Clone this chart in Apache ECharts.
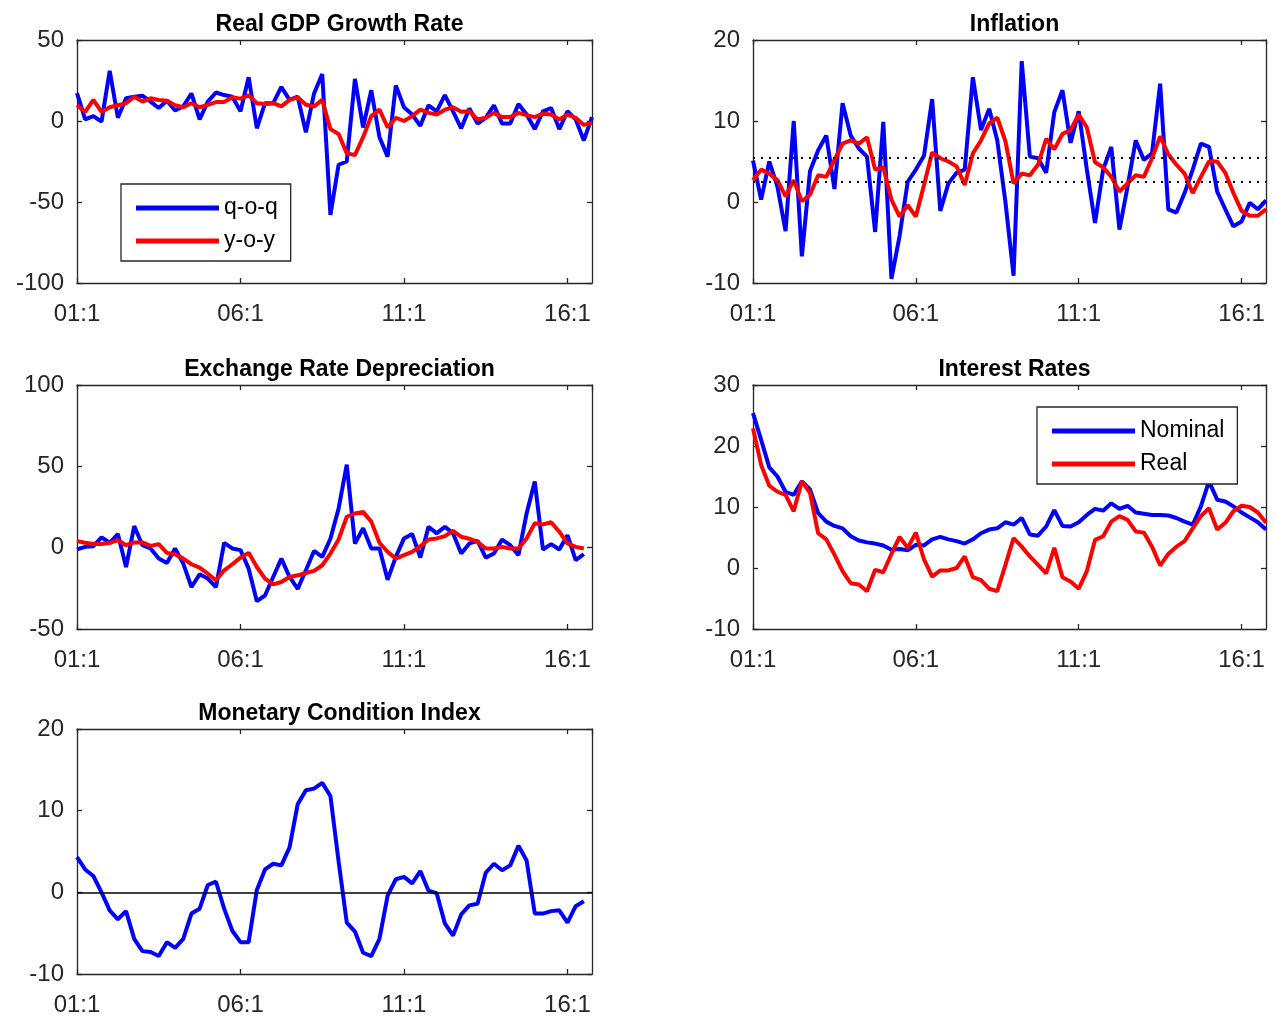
<!DOCTYPE html>
<html>
<head>
<meta charset="utf-8">
<title>Macro indicators</title>
<script src="https://cdn.jsdelivr.net/npm/echarts@6/dist/echarts.min.js"></script>
<style>
  html, body { margin: 0; padding: 0; background: #fff; }
  #chart { width: 1275px; height: 1017px; }
</style>
</head>
<body>
<div id="chart"></div>
<script>
// quarterly data, 2001Q1 onwards (index 0 = 01:1)
const quarterTicks = ["01:1", "06:1", "11:1", "16:1"];

const gdpQoq = [17.2, 1, 3, -0.4, 31, 2, 14, 15, 15.6, 12,
  8, 12.5, 6.5, 9, 17, 1, 12, 17.6, 16, 15,
  6, 27, -4.5, 11, 11, 21, 13, 15, -7, 17,
  29, -58, -27, -25, 26, -4, 19, -10, -22, 22,
  8.5, 4, -3, 9.7, 6, 16, 6, -4.5, 7.7, -1.6,
  2, 9.7, -1.6, -1.6, 10.5, 4, -5, 6, 8, -5,
  6, 1, -12, 2.4];
const gdpYoy = [9.7, 5.7, 13, 5.7, 8.5, 9.7, 11, 15, 12, 14,
  13, 12.5, 9.7, 8.5, 11, 8.5, 10, 11.7, 11.7, 14.6,
  13.8, 15.8, 11, 10.5, 11, 9, 13, 14.6, 10, 9,
  13, -5, -8, -20, -21, -10, 3, 7, -4, 2,
  0, 3, 7, 5, 4, 7, 8.5, 5.7, 6, 1,
  2, 5, 2.4, 2.4, 5, 3.6, 2.4, 4.5, 4, 1,
  4, 2, -2.4, -1];

const inflQoq = [5.1, 0.3, 5, 1.9, -3.6, 10, -6.7, 3.8, 6.4, 8.2,
  1.6, 12.2, 8.2, 6.6, 5.6, -3.7, 9.9, -9.5, -4.2, 2.5,
  4, 5.7, 12.7, -1.1, 2.3, 3.6, 4, 15.4, 8.9, 11.5,
  7.6, 0, -9.1, 17.4, 5.6, 5.4, 3.6, 11.1, 13.8, 7.3,
  11.2, 4, -2.6, 4, 6.8, -3.4, 1.9, 7.6, 5.2, 6,
  14.6, -0.9, -1.3, 1.1, 4, 7.2, 6.8, 1.3, -0.9, -3,
  -2.4, -0.1, -0.9, 0.2];
const inflYoy = [2.7, 4, 3.5, 2.7, 0.7, 2.7, 0.1, 0.9, 3.3, 3.1,
  5.2, 7.2, 7.6, 7.2, 8, 4, 4.3, 0.3, -1.8, -0.4,
  -1.8, 2.1, 6.1, 5.4, 5, 4.4, 2.1, 6, 7.6, 9.7,
  10.4, 7.5, 2.3, 3.5, 3.3, 4.6, 7.8, 6.5, 8.4, 8.9,
  10.8, 9.2, 4.9, 4.3, 3.1, 1.3, 2.3, 3.3, 3.1, 5.4,
  8.1, 5.9, 4.6, 3.5, 1.1, 3.1, 5, 5, 3.6, 1.1,
  -1.1, -1.7, -1.7, -0.9];
const inflBand = [5.5, 2.5];

const erQoq = [-1.1, 0.5, 0.9, 6.3, 3, 8.4, -11.9, 13.3, 1.5, -0.5,
  -6.7, -9.4, -0.5, -9.8, -24.2, -16.4, -19, -24.2, 3, -0.5,
  -1.5, -12.9, -32.9, -29.4, -18, -6.7, -18, -25.3, -13.9, -2,
  -5.7, 5.5, 24, 51, 2.6, 11.9, -0.5, -0.5, -19.7, -5.7,
  5.7, 8.4, -6.1, 12.9, 8.8, 12.9, 8.8, -3.6, 2.6, 4.2,
  -6.1, -3.6, 5, 1.5, -4.6, 21, 40.7, -1.1, 2.2, -1.1,
  7.7, -7.7, -4];
const erYoy = [4, 3, 2.2, 2.2, 3, 4.6, 1.5, 3.2, 3.2, 1.1,
  2.2, -3.2, -4, -6.7, -10.2, -12.3, -16, -20.1, -13.9, -10.2,
  -6.1, -3.2, -11.9, -19, -22.6, -21.1, -18, -17, -15.6, -14.3,
  -10.8, -3.6, 5, 19, 21, 22, 16, 3, -2.6, -6.7,
  -4.6, -2.6, 0.9, 5, 5.7, 7.1, 10.4, 6.7, 5.5, 3.6,
  -0.5, -0.5, 0.5, -0.5, -0.5, 5.7, 15, 14.3, 15.6, 9.8,
  2.6, 0.5, -0.5];

const rateNominal = [25.4, 21, 16.5, 15, 12.5, 12, 14.2, 12.9, 9, 7.6,
  6.9, 6.5, 5.2, 4.5, 4.2, 4, 3.7, 3, 3.1, 2.9,
  3.8, 3.7, 4.7, 5.1, 4.7, 4.4, 4, 4.7, 5.7, 6.3,
  6.5, 7.5, 7.1, 8.2, 5.5, 5.3, 6.8, 9.5, 6.9, 6.8,
  7.5, 8.7, 9.7, 9.4, 10.6, 9.7, 10.2, 9.1, 8.9, 8.7,
  8.7, 8.6, 8.2, 7.6, 7.1, 10.1, 14.2, 11.2, 10.9, 10.1,
  9.1, 8.3, 7.5, 6.3];
const rateReal = [22.9, 16.9, 13.5, 12.5, 12, 9.3, 14.2, 12.3, 5.7, 4.7,
  2.2, -0.5, -2.5, -2.7, -3.8, -0.3, -0.7, 2.3, 5.1, 3.3,
  5.8, 1.4, -1.4, -0.4, -0.4, 0, 1.9, -1.5, -2, -3.4,
  -3.8, 0.5, 4.9, 3.5, 1.9, 0.5, -0.9, 3.3, -1.5, -2.2,
  -3.4, -0.5, 4.6, 5.2, 7.6, 8.5, 7.9, 6, 5.8, 3.5,
  0.4, 2.3, 3.5, 4.4, 6.5, 8.5, 9.8, 6.3, 7.4, 9.3,
  10.2, 10, 9.1, 7.4];

const mci = [4.3, 2.8, 2, 0, -2.2, -3.3, -2.3, -5.7, -7.2, -7.3,
  -7.8, -6.1, -6.8, -5.7, -2.6, -2, 0.9, 1.3, -2, -4.7,
  -6.1, -6.1, 0.3, 2.8, 3.5, 3.3, 5.5, 10.8, 12.5, 12.7,
  13.4, 11.8, 3.8, -3.7, -4.8, -7.4, -7.8, -5.7, -0.4, 1.6,
  1.9, 1.1, 2.6, 0.2, -0.1, -3.8, -5.3, -2.7, -1.6, -1.4,
  2.4, 3.5, 2.7, 3.3, 5.7, 3.9, -2.6, -2.6, -2.3, -2.2,
  -3.7, -1.7, -1.1];

const FONT = "'Liberation Sans', Arial, Helvetica, sans-serif";
const AXIS_COLOR = "#262626";

// panel boxes and y ranges
const panels = [
  { title: "Real GDP Growth Rate", left: 77, top: 40, width: 515, height: 243, min: -100, max: 50, step: 50 },
  { title: "Inflation", left: 753, top: 40, width: 513, height: 243, min: -10, max: 20, step: 10 },
  { title: "Exchange Rate Depreciation", left: 77, top: 385, width: 515, height: 244, min: -50, max: 100, step: 50 },
  { title: "Interest Rates", left: 753, top: 385, width: 513, height: 244, min: -10, max: 30, step: 10 },
  { title: "Monetary Condition Index", left: 77, top: 729, width: 515, height: 246, min: -10, max: 20, step: 10 },
];

const pairs = (arr) => arr.map((v, i) => [i, v]);

var myChart = echarts.init(document.getElementById("chart"));

var grids = [], xAxes = [], yAxes = [], titles = [];
panels.forEach(function (p, k) {
  grids.push({ left: p.left, top: p.top, width: p.width, height: p.height, containLabel: false });
  titles.push({
    text: p.title,
    left: p.left + p.width / 2,
    top: p.top - 32,
    textAlign: "center",
    textStyle: { fontFamily: FONT, fontSize: 23, fontWeight: "bold", color: "#000" },
  });
  var axLine = { show: true, onZero: false, lineStyle: { color: AXIS_COLOR, width: 1.3 } };
  var tick = { show: true, inside: true, length: 5, lineStyle: { color: AXIS_COLOR, width: 1.3 } };
  // bottom + top x axes
  xAxes.push({
    type: "value", gridIndex: k, position: "bottom", min: 0, max: 63, interval: 20,
    axisLine: axLine, axisTick: tick, splitLine: { show: false },
    axisLabel: {
      margin: 19, fontSize: 24, fontFamily: FONT, color: AXIS_COLOR, showMaxLabel: false,
      formatter: function (v) { return quarterTicks[v / 20] || ""; },
    },
  });
  xAxes.push({
    type: "value", gridIndex: k, position: "top", min: 0, max: 63, interval: 20,
    axisLine: axLine, axisTick: tick, splitLine: { show: false }, axisLabel: { show: false },
  });
  // left + right y axes
  yAxes.push({
    type: "value", gridIndex: k, position: "left", min: p.min, max: p.max, interval: p.step,
    axisLine: axLine, axisTick: tick, splitLine: { show: false },
    axisLabel: { margin: 13, fontSize: 24, fontFamily: FONT, color: AXIS_COLOR, padding: [4, 0, 0, 0] },
  });
  yAxes.push({
    type: "value", gridIndex: k, position: "right", min: p.min, max: p.max, interval: p.step,
    axisLine: axLine, axisTick: tick, splitLine: { show: false }, axisLabel: { show: false },
  });
});

function lineSeries(name, data, color, k, extra) {
  return Object.assign({
    name: name,
    type: "line",
    xAxisIndex: 2 * k,
    yAxisIndex: 2 * k,
    data: pairs(data),
    color: color,
    showSymbol: false,
    symbol: "none",
    lineStyle: { width: 4, color: color },
    silent: true,
    animation: false,
  }, extra || {});
}

var legendBase = {
  orient: "vertical",
  icon: "rect",
  itemWidth: 83,
  itemHeight: 5,
  itemGap: 7,
  padding: [11, 13, 7, 15],
  borderColor: AXIS_COLOR,
  borderWidth: 1.3,
  backgroundColor: "#fff",
  selectedMode: false,
  textStyle: { fontFamily: FONT, fontSize: 23, color: "#000", lineHeight: 26 },
};

var option = {
  backgroundColor: "#fff",
  animation: false,
  title: titles,
  grid: grids,
  xAxis: xAxes,
  yAxis: yAxes,
  legend: [
    Object.assign({}, legendBase, { data: ["q-o-q", "y-o-y"], left: 121, top: 184 }),
    Object.assign({}, legendBase, { data: ["Nominal", "Real"], left: 1037, top: 407 }),
  ],
  series: [
    lineSeries("q-o-q", gdpQoq, "#0000ff", 0),
    lineSeries("y-o-y", gdpYoy, "#ff0000", 0),
    lineSeries("Inflation q-o-q", inflQoq, "#0000ff", 1, {
      markLine: {
        symbol: "none", silent: true, animation: false, label: { show: false },
        lineStyle: { type: [2, 6], color: "#000", width: 2 },
        data: inflBand.map(function (v) { return { yAxis: v }; }),
      },
    }),
    lineSeries("Inflation y-o-y", inflYoy, "#ff0000", 1),
    lineSeries("Depreciation q-o-q", erQoq, "#0000ff", 2),
    lineSeries("Depreciation y-o-y", erYoy, "#ff0000", 2),
    lineSeries("Nominal", rateNominal, "#0000ff", 3),
    lineSeries("Real", rateReal, "#ff0000", 3),
    lineSeries("MCI", mci, "#0000ff", 4, {
      markLine: {
        symbol: "none", silent: true, animation: false, label: { show: false },
        lineStyle: { type: "solid", color: "#000", width: 1.5 },
        data: [{ yAxis: 0 }],
      },
    }),
  ],
};

myChart.setOption(option);
</script>
</body>
</html>
